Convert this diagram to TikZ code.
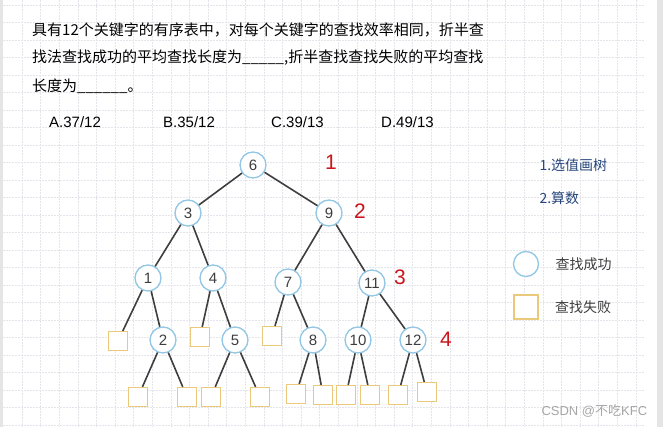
\documentclass[tikz,border=0pt]{standalone}
\usepackage{fontspec}
\setmainfont{Liberation Sans}
\newfontfamily\cjk{Noto Sans CJK SC}
\usetikzlibrary{positioning}
\definecolor{succblue}{RGB}{145,198,228}
\definecolor{failorange}{RGB}{234,202,122}
\definecolor{edgegray}{RGB}{62,62,62}
\definecolor{levelred}{RGB}{200,22,28}
\definecolor{noteblue}{RGB}{38,68,122}
\definecolor{gridgray}{RGB}{228,228,234}
\tikzset{succ/.style={circle,draw=succblue,line width=1.3pt,fill=white,minimum size=26pt,inner sep=0pt,text=edgegray,font=\fontsize{15}{15}\selectfont},
  fail/.style={rectangle,draw=failorange,line width=1.2pt,fill=white,minimum size=19pt,inner sep=0pt},
  lvl/.style={text=levelred,font=\fontsize{21}{21}\selectfont},
  qline/.style={anchor=west,inner sep=0pt,font=\cjk\fontsize{15}{15}\selectfont},
  opt/.style={anchor=west,inner sep=0pt,font=\fontsize{15}{15}\selectfont}}

\begin{document}
\begin{tikzpicture}[x=1pt,y=-1pt,edge/.style={draw=edgegray,line width=1.6pt}]
\useasboundingbox (0,0) rectangle (663,427);
% --- paper: grid and edge strips
\foreach \k in {0,...,33} \draw[gridgray,dash pattern=on 2pt off 1pt] ({22+18.6*\k},0) -- ({22+18.6*\k},427);
\foreach \k in {0,...,24} \draw[gridgray,dash pattern=on 2pt off 1pt] (3,{5+17.5*\k}) -- (645,{5+17.5*\k});
\fill[gray!20] (0,0) rectangle (3,427);
\fill[white] (645,0) rectangle (657,427);
\fill[gray!20] (657,0) rectangle (663,427);
% --- question
\node[qline] (q1) at (32,30) {具有12个关键字的有序表中，对每个关键字的查找效率相同，折半查};
\node[qline] (q2) at (32,58) {找法查找成功的平均查找长度为\_\_\_\_\_,折半查找查找失败的平均查找};
\node[qline] (q3) at (32,86) {长度为\_\_\_\_\_\_。};
\node[opt] (optA) at (49,122) {A.37/12};
\node[opt] (optB) at (163,122) {B.35/12};
\node[opt] (optC) at (271,122) {C.39/13};
\node[opt] (optD) at (381,122) {D.49/13};
% --- decision tree
\node[succ] (n6) at (253,165) {6};
\node[succ] (n3) at (188,213) {3};
\node[succ] (n9) at (329,213) {9};
\node[succ] (n1) at (148,278) {1};
\node[succ] (n4) at (213,278) {4};
\node[succ] (n7) at (288,282) {7};
\node[succ] (n11) at (372,283) {11};
\node[succ] (n2) at (163,340) {2};
\node[succ] (n5) at (235,340) {5};
\node[succ] (n8) at (313,340) {8};
\node[succ] (n10) at (358,340) {10};
\node[succ] (n12) at (413,340) {12};
\node[fail] (f1) at (118,341) {};
\node[fail] (f2) at (200,337) {};
\node[fail] (f3) at (272,336) {};
\node[fail] (f4) at (138,397) {};
\node[fail] (f5) at (187,397) {};
\node[fail] (f6) at (211,397) {};
\node[fail] (f7) at (260,397) {};
\node[fail] (f8) at (296,394) {};
\node[fail] (f9) at (323,395) {};
\node[fail] (f10) at (346,395) {};
\node[fail] (f11) at (370,395) {};
\node[fail] (f12) at (398,395) {};
\node[fail] (f13) at (427,392) {};
\draw[edge] (n6) -- (n3); \draw[edge] (n6) -- (n9);
\draw[edge] (n3) -- (n1); \draw[edge] (n3) -- (n4);
\draw[edge] (n9) -- (n7); \draw[edge] (n9) -- (n11);
\draw[edge] (n1) -- (f1); \draw[edge] (n1) -- (n2);
\draw[edge] (n4) -- (f2); \draw[edge] (n4) -- (n5);
\draw[edge] (n7) -- (f3); \draw[edge] (n7) -- (n8);
\draw[edge] (n11) -- (n10); \draw[edge] (n11) -- (n12);
\draw[edge] (n2) -- (f4); \draw[edge] (n2) -- (f5);
\draw[edge] (n5) -- (f6); \draw[edge] (n5) -- (f7);
\draw[edge] (n8) -- (f8); \draw[edge] (n8) -- (f9);
\draw[edge] (n10) -- (f10); \draw[edge] (n10) -- (f11);
\draw[edge] (n12) -- (f12); \draw[edge] (n12) -- (f13);
% level numbers
\node[lvl] (l1) at (331,162) {1};
\node[lvl] (l2) at (360,211) {2};
\node[lvl] (l3) at (400,277) {3};
\node[lvl] (l4) at (446,339) {4};
% --- notes and legend
\node[anchor=west,text=noteblue,font=\cjk\fontsize{14}{14}\selectfont] (note1) at (536,165) {1.选值画树};
\node[anchor=west,text=noteblue,font=\cjk\fontsize{14}{14}\selectfont] (note2) at (536,198) {2.算数};
\node[succ,minimum size=25pt] (legS) at (526,264) {};
\node[fail,minimum size=24pt] (legF) at (526,307) {};
\node[right=13pt of legS,text=edgegray,font=\cjk\fontsize{14}{14}\selectfont] (legStxt) {查找成功};
\node[right=13pt of legF,text=edgegray,font=\cjk\fontsize{14}{14}\selectfont] (legFtxt) {查找失败};
\node[anchor=west,text=gray!70,font=\fontsize{13}{13}\selectfont] (mark) at (538,411) {CSDN @{\cjk 不吃}KFC};
\end{tikzpicture}
\end{document}
